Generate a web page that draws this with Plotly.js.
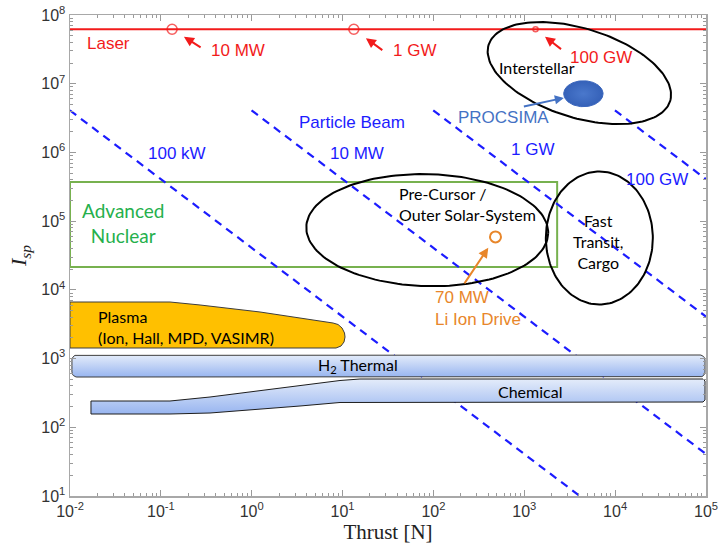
<!DOCTYPE html>
<html>
<head>
<meta charset="utf-8">
<script src="https://cdn.plot.ly/plotly-3.0.1.min.js"></script>
<style>
  html, body { margin: 0; padding: 0; background: #ffffff; }
  #chart { width: 722px; height: 552px; }
</style>
</head>
<body>
<div id="chart"></div>
<script>
// ---------------- data ----------------
// axis extents in decades
const thrustDecades = [-2, 5];
const ispDecades = [1, 8];
const decadeTickVals = [1e-2, 1e-1, 1e0, 1e1, 1e2, 1e3, 1e4, 1e5, 1e6, 1e7, 1e8];
const decadeTickText = ['10<sup>-2</sup>', '10<sup>-1</sup>', '10<sup>0</sup>', '10<sup>1</sup>', '10<sup>2</sup>',
                        '10<sup>3</sup>', '10<sup>4</sup>', '10<sup>5</sup>', '10<sup>6</sup>', '10<sup>7</sup>', '10<sup>8</sup>'];

// particle-beam power lines (Isp x thrust = k x power)
const beamPowerW = [1e5, 1e7, 1e9, 1e11];
const beamLabels = ['100 kW', '10 MW', '1 GW', '100 GW'];
const beamIspThrustPerWatt = 0.408;
const beamIspMax = 4.1e6;

// laser sail line and power markers
const laserIsp = 6.2e7;
const laserThrust = [0.133, 13.3, 1330];
const laserLabels = ['10 MW', '1 GW', '100 GW'];

// Li ion drive point
const liIonThrust = [482];
const liIonIsp = [5.9e4];
const liIonLabel = ['70 MW', 'Li Ion Drive'];

// advanced nuclear box
const nuclearThrust = [0.01, 2300];
const nuclearIsp = [2.15e4, 3.7e5];

// plasma thruster envelope
const plasmaThrust = [0.01, 0.126, 0.27, 1.234, 7.85, 8.91, 9.86, 10.5, 10.64, 10.37, 9.61, 8.47, 0.01, 0.01];
const plasmaIsp = [6658, 6658, 6022, 4763, 3294, 3133, 2786, 2357, 2061, 1743, 1524, 1425, 1425, 6658];

// H2 thermal band
const h2Thrust = [0.0105, 9.75e4];
const h2Isp = [539, 1127];

// chemical envelope
const chemThrust = [0.01702, 0.126, 0.3475, 3.40, 9.37, 15.55, 9.27e4, 9.75e4, 9.75e4, 9.27e4, 15.55, 9.37, 3.40, 0.3475, 0.126, 0.01702, 0.01702];
const chemIsp = [241.3, 241.3, 275.9, 398.9, 479.6, 504.3, 504.3, 471.6, 249.5, 233.3, 233.3, 229.5, 204, 161.4, 156.1, 156.1, 241.3];

// mission regions (centres)
const missionNames = ['Interstellar', 'Pre-Cursor', 'Fast Transit'];
const missionThrust = [4036, 85.5, 6700];
const missionIsp = [1.43e7, 7.4e4, 5.68e4];

// PROCSIMA
const procsimaThrust = [4470];
const procsimaIsp = [7.15e6];

// ---------------- geometry helpers ----------------
const W = 722, H = 552;
const M = { l: 70, r: 16, t: 15, b: 56 };
const KX = (W - M.l - M.r) / (thrustDecades[1] - thrustDecades[0]); // px per decade
const KY = (H - M.t - M.b) / (ispDecades[1] - ispDecades[0]);

// ellipse outline on log-log axes; a, b are screen semi-axes in px, tilt clockwise in degrees
function ellipse(cx, cy, a, b, tiltDeg, n) {
  n = n || 160;
  const th = tiltDeg * Math.PI / 180;
  const lx = Math.log10(cx), ly = Math.log10(cy);
  const xs = [], ys = [];
  for (let i = 0; i <= n; i++) {
    const t = 2 * Math.PI * i / n;
    const px = a * Math.cos(t) * Math.cos(th) - b * Math.sin(t) * Math.sin(th);
    const py = a * Math.cos(t) * Math.sin(th) + b * Math.sin(t) * Math.cos(th);
    xs.push(Math.pow(10, lx + px / KX));
    ys.push(Math.pow(10, ly - py / KY));
  }
  return { x: xs, y: ys };
}

// rectangle with rounded corners (radius r in px) on log-log axes
function roundedBox(x0, x1, y0, y1, r) {
  const L = Math.log10(x0), R = Math.log10(x1), B = Math.log10(y0), T = Math.log10(y1);
  const rx = r / KX, ry = r / KY;
  const corners = [
    [R - rx, T - ry, 0], [L + rx, T - ry, 90], [L + rx, B + ry, 180], [R - rx, B + ry, 270]
  ];
  const xs = [], ys = [];
  corners.forEach(function (c) {
    for (let k = 0; k <= 8; k++) {
      const ang = (c[2] + 90 * k / 8) * Math.PI / 180;
      xs.push(Math.pow(10, c[0] + rx * Math.cos(ang)));
      ys.push(Math.pow(10, c[1] + ry * Math.sin(ang)));
    }
  });
  xs.push(xs[0]); ys.push(ys[0]);
  return { x: xs, y: ys };
}

function minorTicks(d0, d1) {
  const v = [];
  for (let d = d0; d < d1; d++) for (let m = 2; m <= 9; m++) v.push(m * Math.pow(10, d));
  return v;
}

// ---------------- colours ----------------
const RED = '#f21b1b', BLUE = '#1c1cff', GREEN_LINE = '#77b14f', GREEN_TEXT = '#25b04c',
      ORANGE = '#e8862a', STEEL = '#4472c4';

const traces = [];

// advanced nuclear rectangle
traces.push({
  x: [nuclearThrust[0], nuclearThrust[1], nuclearThrust[1], nuclearThrust[0], nuclearThrust[0]],
  y: [nuclearIsp[0], nuclearIsp[0], nuclearIsp[1], nuclearIsp[1], nuclearIsp[0]],
  mode: 'lines', line: { color: GREEN_LINE, width: 2 }, hoverinfo: 'skip'
});

// particle beam power lines
beamPowerW.forEach(function (p) {
  const k = beamIspThrustPerWatt * p;
  const f0 = k / beamIspMax, f1 = Math.pow(10, thrustDecades[1]);
  traces.push({
    x: [f0, f1], y: [k / f0, k / f1], mode: 'lines',
    line: { color: BLUE, width: 2.2, dash: '8px,6px' }, hoverinfo: 'skip'
  });
});

// laser line
traces.push({
  x: [Math.pow(10, thrustDecades[0]), Math.pow(10, thrustDecades[1])], y: [laserIsp, laserIsp],
  mode: 'lines', line: { color: RED, width: 2 }, hoverinfo: 'skip'
});
traces.push({
  x: laserThrust, y: laserThrust.map(function () { return laserIsp; }), mode: 'markers',
  marker: { symbol: 'circle-open', size: [10, 10, 5], color: RED, line: { color: RED, width: 1.6 } },
  hoverinfo: 'skip'
});

// plasma envelope
traces.push({
  x: plasmaThrust, y: plasmaIsp, mode: 'lines', fill: 'toself', fillcolor: '#ffc000',
  line: { color: '#3d3d3d', width: 1 }, hoverinfo: 'skip'
});

// H2 thermal band
const h2 = roundedBox(h2Thrust[0], h2Thrust[1], h2Isp[0], h2Isp[1], 5);
traces.push({
  x: h2.x, y: h2.y, mode: 'lines', fill: 'toself', fillcolor: '#c4d4f5',
  fillgradient: { type: 'vertical', colorscale: [[0, '#98b5f0'], [1, '#e4ecfa']] },
  line: { color: '#3d3d3d', width: 1 }, hoverinfo: 'skip'
});

// chemical envelope
traces.push({
  x: chemThrust, y: chemIsp, mode: 'lines', fill: 'toself', fillcolor: '#c4d4f5',
  fillgradient: { type: 'vertical', colorscale: [[0, '#98b5f0'], [1, '#e4ecfa']] },
  line: { color: '#1e1e1e', width: 1 }, hoverinfo: 'skip'
});

// mission ellipses
const missionShape = [[95, 44.6, 17.2], [121, 56, 1.5], [53.5, 66.5, 0]];
missionNames.forEach(function (n, i) {
  const e = ellipse(missionThrust[i], missionIsp[i], missionShape[i][0], missionShape[i][1], missionShape[i][2]);
  traces.push({ x: e.x, y: e.y, mode: 'lines', line: { color: '#000000', width: 2 }, hoverinfo: 'skip' });
});

// PROCSIMA blob
const pe = ellipse(procsimaThrust[0], procsimaIsp[0], 19.7, 13, 0);
traces.push({
  x: pe.x, y: pe.y, mode: 'lines', fill: 'toself', fillcolor: '#3f6dc4',
  fillgradient: { type: 'radial', colorscale: [[0, '#4a78cc'], [1, '#3561b8']] },
  line: { color: '#3a66bd', width: 1 }, hoverinfo: 'skip'
});

// Li ion drive marker
traces.push({
  x: liIonThrust, y: liIonIsp, mode: 'markers',
  marker: { symbol: 'circle-open', size: 11, color: ORANGE, line: { color: ORANGE, width: 2 } },
  hoverinfo: 'skip'
});

// ---------------- annotations ----------------
const SANS = 'Liberation Sans, Arial, sans-serif';
const HUMAN = 'Lato, Noto Sans, sans-serif';
function label(text, lx, ly, color, size, family, xanchor, align) {
  return {
    text: text, x: lx, y: ly, xref: 'x', yref: 'y', showarrow: false,
    xanchor: xanchor || 'center', yanchor: 'middle', align: align || 'center',
    font: { color: color, size: size, family: family }
  };
}
function arrow(x, y, ax, ay, standoff, color, width, size) {
  return {
    text: '', x: Math.log10(x), y: Math.log10(y), xref: 'x', yref: 'y',
    showarrow: true, ax: ax, ay: ay, standoff: standoff,
    arrowhead: 2, arrowsize: size || 1, arrowwidth: width || 2, arrowcolor: color
  };
}

const annotations = [
  label('Laser', -1.571, 7.5925, RED, 17, SANS),
  label(laserLabels[0], -0.151, 7.4906, RED, 17, SANS),
  label(laserLabels[1], 1.797, 7.4906, RED, 17, SANS),
  label(laserLabels[2], 3.844, 7.3888, RED, 17, SANS),
  arrow(laserThrust[0], laserIsp, 30, 19, 14, RED),
  arrow(laserThrust[1], laserIsp, 30, 22, 15, RED),
  arrow(laserThrust[2], laserIsp, 27, 21, 12, RED),

  label('Interstellar', 3.140, 7.2432, '#000000', 16, HUMAN),
  label('PROCSIMA', 2.7657, 6.5156, STEEL, 17, SANS),
  arrow(procsimaThrust[0], procsimaIsp[0], -61, 13, 20, STEEL, 2, 0.9),

  label('Particle Beam', 1.1038, 6.4428, BLUE, 17, SANS),
  label(beamLabels[0], -0.8223, 5.9917, BLUE, 17, SANS),
  label(beamLabels[1], 1.1588, 5.9917, BLUE, 17, SANS),
  label(beamLabels[2], 3.085, 6.0499, BLUE, 17, SANS),
  label(beamLabels[3], 4.4607, 5.6133, BLUE, 17, SANS),

  label('Advanced<br>Nuclear', -1.4167, 4.9803, GREEN_TEXT, 19, HUMAN),
  label('Pre-Cursor /<br>Outer Solar-System', 1.599, 5.2495, '#000000', 16, HUMAN, 'left', 'left'),
  label('Fast<br>Transit,<br>Cargo', 3.8113, 4.7039, '#000000', 16, HUMAN),

  label(liIonLabel.join('<br>'), 1.9953, 3.736, ORANGE, 17, SANS, 'left', 'left'),
  arrow(liIonThrust[0], liIonIsp[0], -32, 48, 13, ORANGE),

  label('Plasma<br>(Ion, Hall, MPD, VASIMR)', -1.7138, 3.4667, '#000000', 16, HUMAN, 'left', 'left'),
  label('H<sub>2</sub> Thermal', 1.1698, 2.9064, '#000000', 16, HUMAN),
  label('Chemical', 3.0629, 2.5281, '#000000', 16, HUMAN)
];

// ---------------- layout ----------------
const axisCommon = {
  type: 'log', tickmode: 'array', tickvals: decadeTickVals, ticktext: decadeTickText,
  ticks: 'inside', ticklen: 6, tickwidth: 1, tickcolor: '#9a9a9a',
  showline: true, linecolor: '#a8a8a8', linewidth: 1.5, mirror: 'ticks',
  showgrid: false, zeroline: false,
  tickfont: { family: SANS, size: 16, color: '#333333' },
  minor: { ticks: 'inside', ticklen: 3, tickcolor: '#9a9a9a', tickmode: 'array', showgrid: false }
};

const layout = {
  width: W, height: H, margin: M,
  paper_bgcolor: '#ffffff', plot_bgcolor: '#ffffff', showlegend: false,
  xaxis: Object.assign({}, axisCommon, {
    range: thrustDecades,
    minor: Object.assign({}, axisCommon.minor, { tickvals: minorTicks(-2, 5) }),
    title: { text: 'Thrust [N]', font: { family: 'Liberation Serif, serif', size: 21, color: '#222222' }, standoff: 4 }
  }),
  yaxis: Object.assign({}, axisCommon, {
    range: ispDecades,
    minor: Object.assign({}, axisCommon.minor, { tickvals: minorTicks(1, 8) }),
    title: { text: '<i>I</i><sub><i>sp</i></sub>', font: { family: 'Liberation Serif, serif', size: 22, color: '#222222' }, standoff: 8 }
  }),
  annotations: annotations
};

Plotly.newPlot('chart', traces, layout, { staticPlot: true, displayModeBar: false });
</script>
</body>
</html>
